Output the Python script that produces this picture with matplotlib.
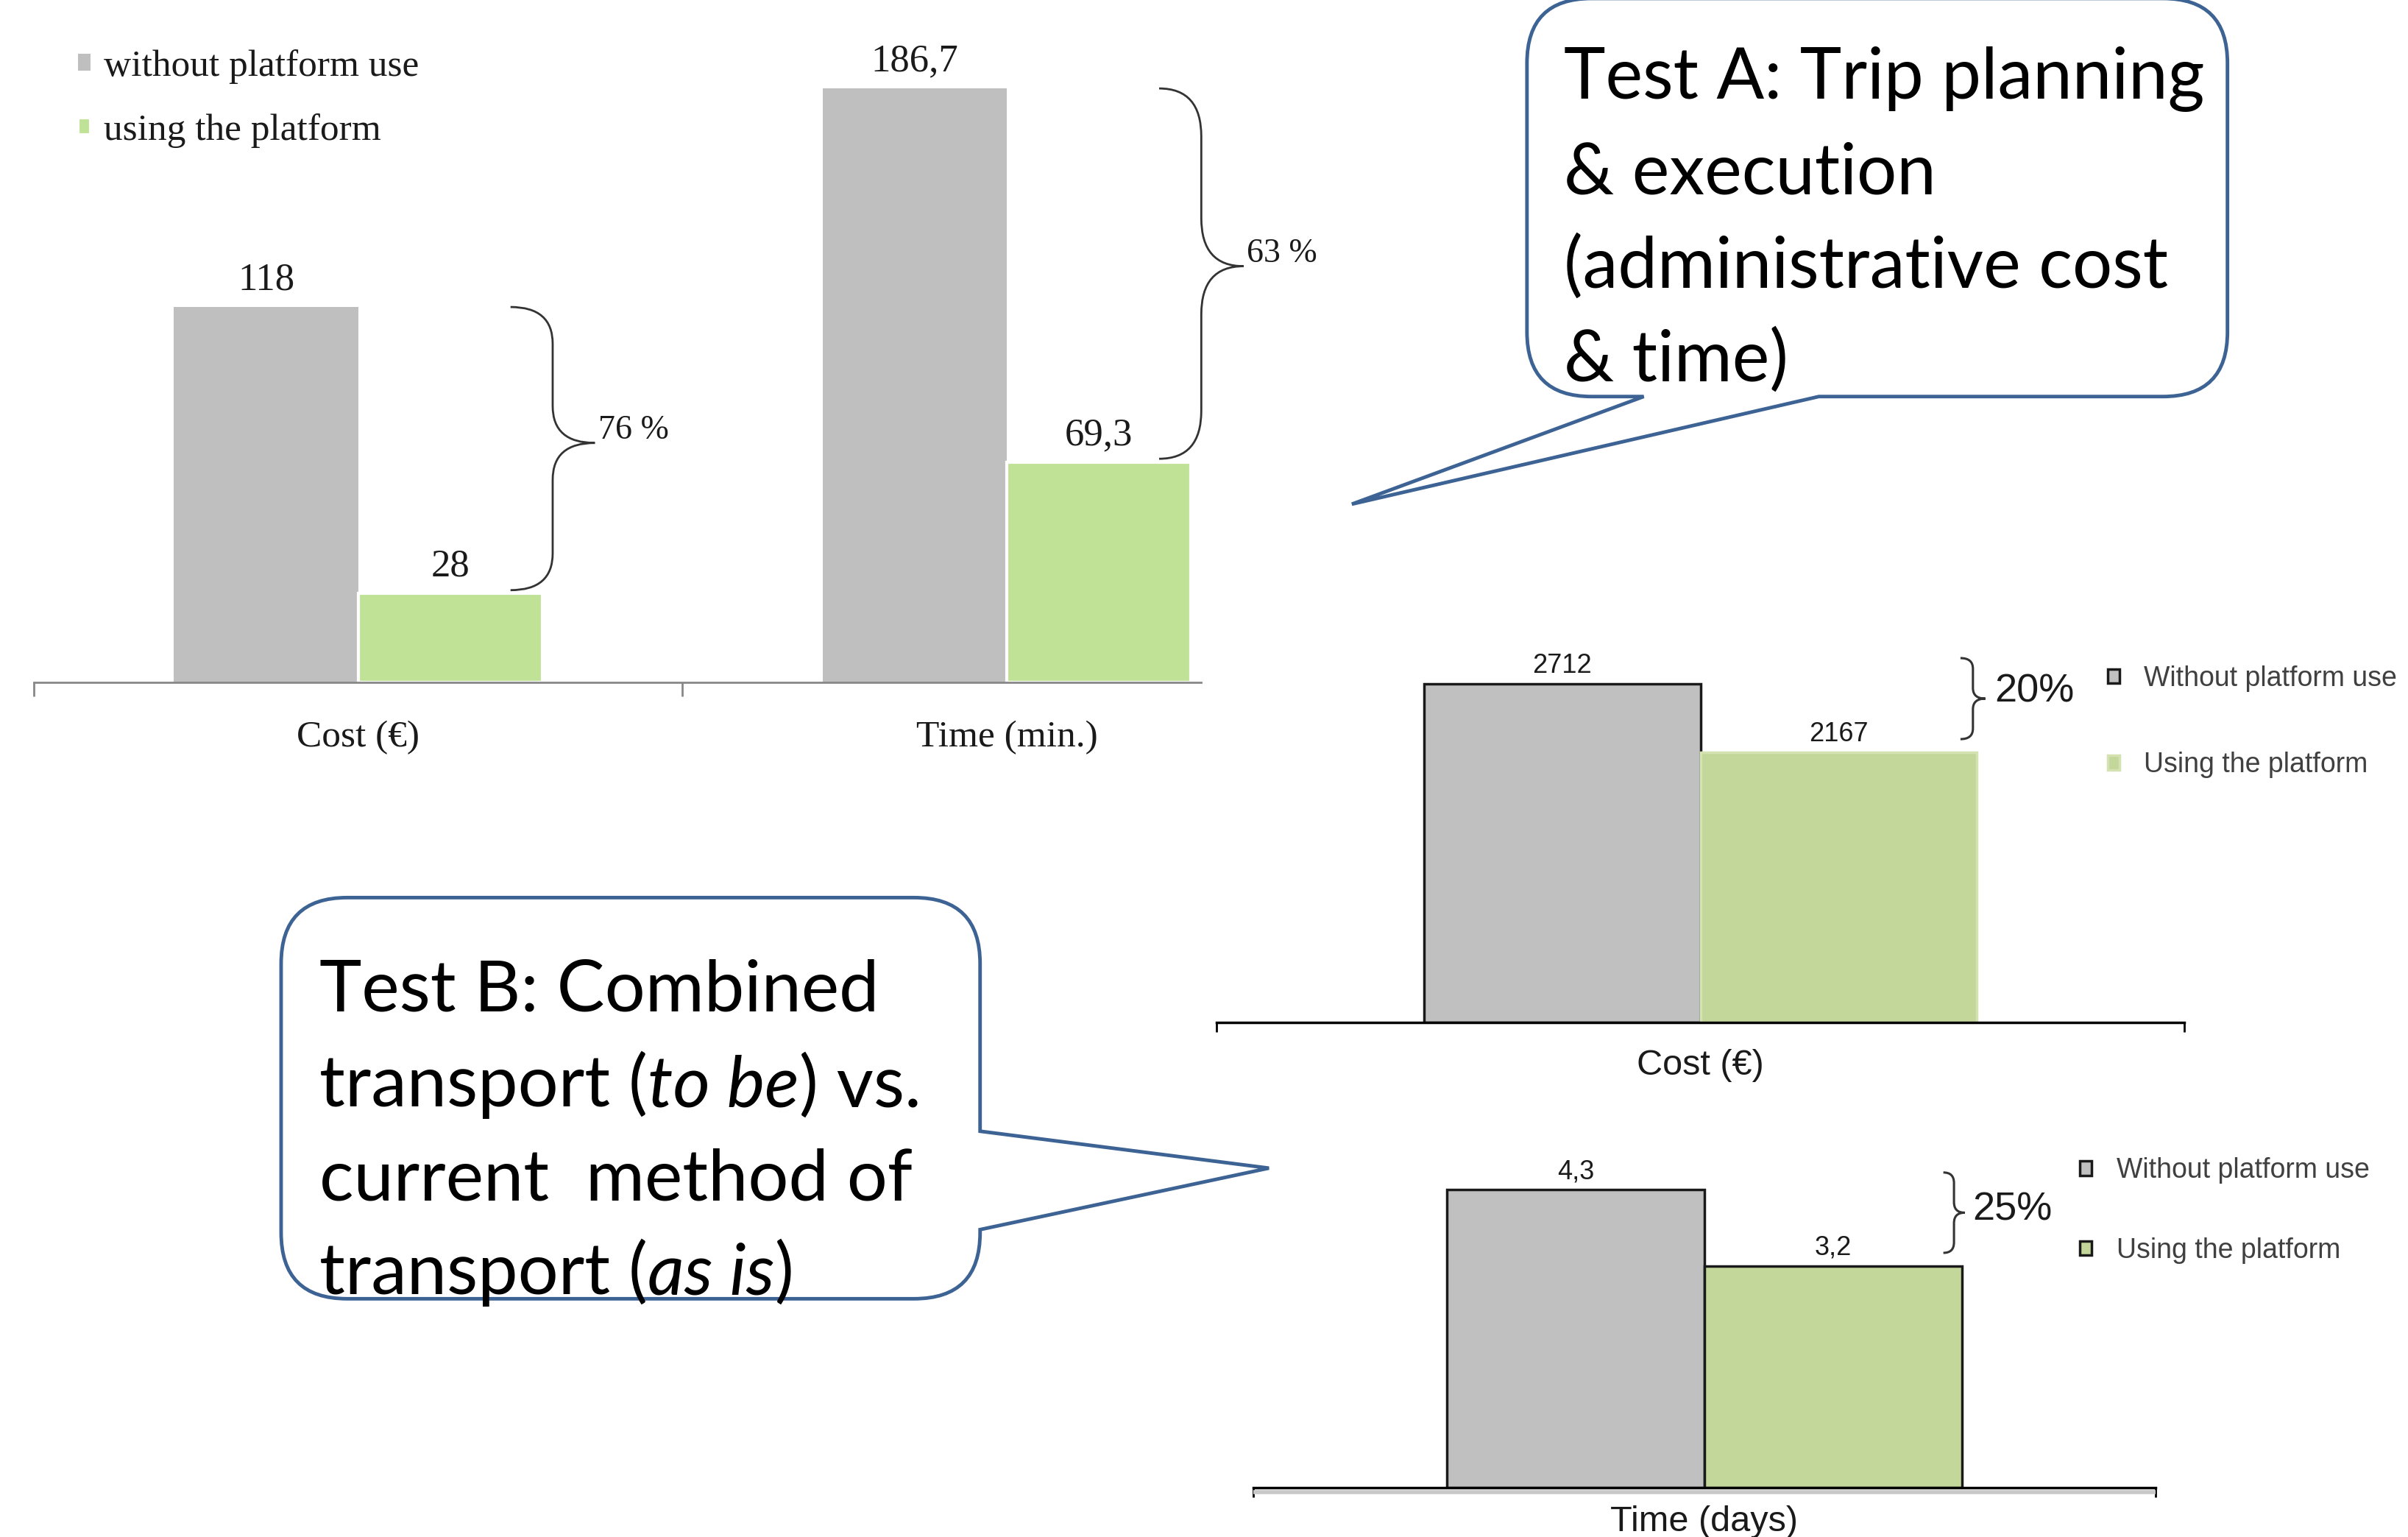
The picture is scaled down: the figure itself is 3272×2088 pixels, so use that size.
import numpy as np
import matplotlib
matplotlib.use('Agg')
import matplotlib.pyplot as plt
import matplotlib.transforms as mtransforms
from matplotlib.path import Path
from matplotlib.patches import PathPatch

# Test A: trip planning & execution
a_categories = ['Cost (€)', 'Time (min.)']
a_without = [118, 186.7]
a_with = [28, 69.3]
a_savings = ['76 %', '63 %']
a_series = ['without platform use', 'using the platform']

# Test B: combined transport, one chart per measure
b_cost_label = 'Cost (€)'
b_cost = [2712, 2167]
b_time_label = 'Time (days)'
b_time = [4.3, 3.2]
b_savings = ['20%', '25%']
b_series = ['Without platform use', 'Using the platform']

GRAY = '#bfbfbf'
GREEN_A = '#bfe297'
GREEN_B = '#c4d79b'
OUTLINE = '#3d6394'
SERIF = 'Liberation Serif'
SANS = 'Liberation Sans'
CALLOUT = 'Lato'


def fmt(v):
    return f'{v:g}'.replace('.', ',')


def frame(l, t, r, b):
    # layout measured on a 1568 x 1000 grid of the page
    return [l / 1568, 1 - b / 1000, (r - l) / 1568, (b - t) / 1000]


def brace(ax, x0, w, y0, y1, tip=0.5, **kw):
    xm = x0 + w / 2
    ym = y0 + tip * (y1 - y0)
    d = 0.13 * (y1 - y0)
    verts = [(x0, y1), (xm, y1), (xm, y1 - d),
             (xm, ym + d), (xm, ym), (x0 + w, ym),
             (xm, ym), (xm, ym - d),
             (xm, y0 + d), (xm, y0), (x0, y0)]
    codes = [Path.MOVETO, Path.CURVE3, Path.CURVE3,
             Path.LINETO, Path.CURVE3, Path.CURVE3,
             Path.CURVE3, Path.CURVE3,
             Path.LINETO, Path.CURVE3, Path.CURVE3]
    ax.add_patch(PathPatch(Path(verts, codes), fill=False, clip_on=False, **kw))
    return ym


def callout(ax, l, t, r, b, rad, wedge):
    # rounded box; wedge = (side, a, b, tip)
    side, w0, w1, tip = wedge
    v = [(l + rad, t), (r - rad, t), (r, t), (r, t + rad)]
    c = [Path.MOVETO, Path.LINETO, Path.CURVE3, Path.CURVE3]
    if side == 'right':
        v += [(r, w0), tip, (r, w1)]
        c += [Path.LINETO] * 3
    v += [(r, b - rad), (r, b), (r - rad, b)]
    c += [Path.LINETO, Path.CURVE3, Path.CURVE3]
    if side == 'bottom':
        v += [(w1, b), tip, (w0, b)]
        c += [Path.LINETO] * 3
    v += [(l + rad, b), (l, b), (l, b - rad), (l, t + rad), (l, t), (l + rad, t), (0, 0)]
    c += [Path.LINETO, Path.CURVE3, Path.CURVE3, Path.LINETO, Path.CURVE3, Path.CURVE3,
          Path.CLOSEPOLY]
    ax.add_patch(PathPatch(Path(v, c), facecolor='white', edgecolor=OUTLINE, lw=3.5,
                           joinstyle='miter'))


def write_lines(ax, x, baselines, lines, size):
    for base, pieces in zip(baselines, lines):
        t = ax.text(x, base, pieces[0][0], fontsize=size, family=CALLOUT,
                    style=pieces[0][1], va='baseline', ha='left', color='black')
        for txt, st in pieces[1:]:
            t = ax.annotate(txt, xy=(1, 0), xycoords=t, fontsize=size, family=CALLOUT,
                            style=st, va='bottom', ha='left', color='black')


fig = plt.figure(figsize=(32.73, 20.88), dpi=100)

# ---- Test A chart ----
ax = fig.add_axes(frame(22, 0, 782, 444))
x = np.arange(len(a_categories))
w = 0.284
bars0 = ax.bar(x - w / 2, a_without, w, color=GRAY, label=a_series[0])
bars1 = ax.bar(x + w / 2, a_with, w, color=GREEN_A, edgecolor='white', linewidth=3,
               label=a_series[1])
ax.set_xlim(-0.5, 1.3)
ax.set_ylim(0, 214.5)
for s in ['top', 'left', 'right']:
    ax.spines[s].set_visible(False)
ax.spines['bottom'].set_color('#878787')
ax.spines['bottom'].set_linewidth(2)
ax.set_yticks([])
ax.set_xticks(x, a_categories, fontsize=37, family=SERIF, color='#1a1a1a')
ax.set_xticks([-0.5, 0.5], minor=True)
ax.tick_params(axis='x', which='major', length=0, pad=37)
ax.tick_params(axis='x', which='minor', length=14, width=2, color='#878787', direction='out')
for bars, vals in [(bars0, a_without), (bars1, a_with)]:
    for rect, v in zip(bars, vals):
        ax.annotate(fmt(v), (rect.get_x() + rect.get_width() / 2, v), xytext=(0, 9),
                    textcoords='offset points', ha='center', va='bottom',
                    fontsize=38, family=SERIF, color='#1a1a1a')
for i in range(len(a_categories)):
    lo, hi = a_with[i] + 1, a_without[i]
    ym = brace(ax, i + 0.235, 0.13, lo, hi, tip=0.52, edgecolor='#333333', lw=2)
    ax.text(i + 0.37, ym + 4, a_savings[i], fontsize=33,
            family=SERIF, color='#1a1a1a', va='center', ha='left')
ax.legend(loc='upper left', bbox_to_anchor=(51 / 1568, 1 - 32 / 1000),
          bbox_transform=fig.transFigure, frameon=False, borderpad=0, borderaxespad=0,
          handlelength=0.33, handleheight=0.33, handletextpad=0.35, labelspacing=0.78,
          prop={'family': SERIF, 'size': 37}, labelcolor='#1a1a1a')


def small_chart(rect, label, vals, greenedge, ylim_top, brace_spec, pct, pct_pos,
                leg_anchor, leg_spacing, label_pad, shadow=False):
    ax = fig.add_axes(frame(*rect))
    ax.bar([-0.2], vals[:1], 0.4, color='#c0c0c0', edgecolor='#1a1a1a', lw=2.5,
           label=b_series[0])
    ax.bar([0.2], vals[1:], 0.4, color=GREEN_B, edgecolor=greenedge, lw=2.5,
           label=b_series[1])
    ax.set_xlim(-0.7, 0.7)
    ax.set_ylim(0, ylim_top)
    for s in ['top', 'left', 'right']:
        ax.spines[s].set_visible(False)
    ax.spines['bottom'].set_linewidth(2.5)
    ax.set_yticks([])
    ax.set_xticks([0], [label], fontsize=35, family=SANS, color='#1a1a1a')
    ax.set_xticks([-0.7, 0.7], minor=True)
    ax.tick_params(axis='x', which='major', length=0, pad=label_pad)
    ax.tick_params(axis='x', which='minor', length=9, width=2, direction='out')
    if shadow:
        # light grey band just under the base line
        below = ax.transAxes + mtransforms.ScaledTranslation(0, -4 / 72, fig.dpi_scale_trans)
        ax.plot([0, 1], [0, 0], transform=below, color='#c8c8c8', lw=4, clip_on=False,
                solid_capstyle='butt')
    for xp, v in zip([-0.2, 0.2], vals):
        ax.annotate(fmt(v), (xp, v), xytext=(0, 5), textcoords='offset points',
                    ha='center', va='bottom', fontsize=26, family=SANS, color='#1a1a1a')
    brace(ax, *brace_spec, edgecolor='#333333', lw=2.2)
    ax.text(pct_pos[0], pct_pos[1], pct, fontsize=39, family=SANS, color='#1a1a1a',
            va='center', ha='left')
    ax.legend(loc='upper left', bbox_to_anchor=(leg_anchor[0] / 1568, 1 - leg_anchor[1] / 1000),
              bbox_transform=fig.transFigure, frameon=False, borderpad=0, borderaxespad=0,
              handlelength=0.42, handleheight=0.42, handletextpad=0.9,
              labelspacing=leg_spacing, prop={'family': SANS, 'size': 27},
              labelcolor='#404040')
    return ax


small_chart((792, 410, 1422, 665), b_cost_label, b_cost, '#d3e2b0', 3144,
            (0.376, 0.036, 2270, 2920), b_savings[0], (0.425, 2651),
            (1372, 433), 2.17, 26)
small_chart((816, 720, 1403, 968), b_time_label, b_time, '#1a1a1a', 5.5,
            (0.371, 0.033, 3.39, 4.55), b_savings[1], (0.416, 4.01),
            (1354, 753), 1.94, 17, shadow=True)

# ---- callouts ----
ov = fig.add_axes([0, 0, 1, 1])
ov.set_xlim(0, 1568)
ov.set_ylim(1000, 0)
ov.axis('off')
ov.set_zorder(10)
ov.patch.set_alpha(0)

callout(ov, 994, -1, 1450, 258, 42, ('bottom', 1070, 1184, (880, 328)))
write_lines(ov, 1018, [64, 126, 187, 248],
            [[('Test A: Trip planning', 'normal')],
             [('& execution', 'normal')],
             [('(administrative cost', 'normal')],
             [('& time)', 'normal')]], 69)

callout(ov, 183, 584, 638, 845, 43, ('right', 736, 800, (826, 760)))
write_lines(ov, 208, [658, 720, 781, 842],
            [[('Test B: Combined', 'normal')],
             [('transport (', 'normal'), ('to be', 'italic'), (') vs.', 'normal')],
             [('current  method of', 'normal')],
             [('transport (', 'normal'), ('as is', 'italic'), (')', 'normal')]], 70)

fig.savefig('out.png', dpi=100)
